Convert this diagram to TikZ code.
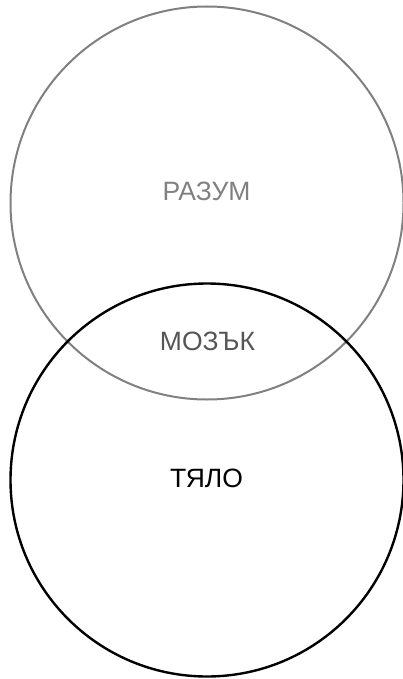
\documentclass[tikz,border=0pt]{standalone}
\usepackage{fontspec}
\setmainfont{Liberation Sans}
\definecolor{mindgray}{HTML}{808080}
\definecolor{braingray}{HTML}{555555}
\begin{document}
\begin{tikzpicture}[x=1pt,y=-1pt,
  ring/.style={draw,line width=2pt},
  lbl/.style={font=\fontsize{26.5}{30}\selectfont,inner sep=0pt,anchor=center}]
\useasboundingbox (0,0) rectangle (403,679);
\draw[ring,mindgray] (207,203) circle[radius=196.5];
\draw[ring,black,line width=2.4pt] (207,480) circle[radius=196.5];
\node[lbl,text=mindgray] (mind) at (206.5,191.5) {РАЗУМ};
\node[lbl,text=braingray] (brain) at (207.5,341.5) {МОЗЪК};
\node[lbl,text=black] (body) at (206.5,478.5) {ТЯЛО};
\end{tikzpicture}
\end{document}
